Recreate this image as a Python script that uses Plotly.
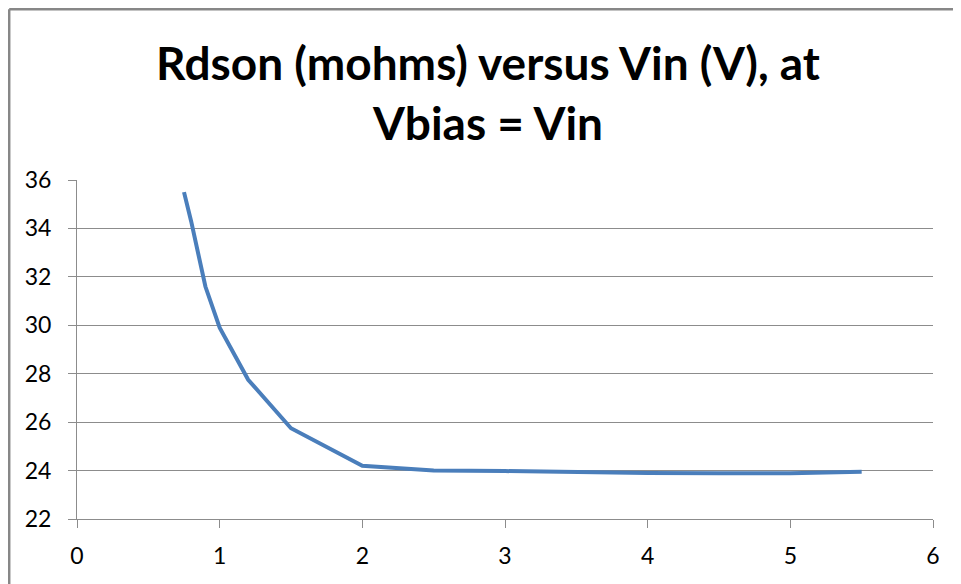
import plotly.graph_objects as go

vin = [0.75, 0.8, 0.9, 1.0, 1.2, 1.5, 2.0, 2.5, 3.0, 3.5, 4.0, 4.5, 5.0, 5.5]
rdson = [35.5, 34.3, 31.6, 29.9, 27.75, 25.75, 24.2, 24.0, 23.98, 23.93, 23.9, 23.89, 23.89, 23.95]
x_ticks = [0, 1, 2, 3, 4, 5, 6]
y_ticks = [22, 24, 26, 28, 30, 32, 34, 36]

title_text = "Rdson (mohms) versus Vin (V), at<br>Vbias = Vin"

# page body has an 8px margin; the figure is sized to fit inside the window
OFF = 8
W, H = 945, 576
ml = 77 - OFF
mt = 180 - OFF
mr = W - (933 - OFF)
mb = H - (519 - OFF)
pw, ph = W - ml - mr, H - mt - mb

fig = go.Figure()
fig.add_trace(go.Scatter(x=vin, y=rdson, mode="lines",
                         line=dict(color="#4A7EBB", width=4),
                         showlegend=False, hoverinfo="skip"))

grid = "#8C8C8C"
fig.update_layout(
    width=W, height=H,
    margin=dict(l=ml, r=mr, t=mt, b=mb, pad=0, autoexpand=False),
    paper_bgcolor="white", plot_bgcolor="white",
    title=dict(text=title_text, x=(488 - OFF) / W, xref="container", xanchor="center",
               y=1 - (80 - OFF) / H, yref="container", yanchor="middle",
               font=dict(family="Lato", size=46, color="black", weight="bold")),
    font=dict(family="Lato", size=23, color="black"),
    xaxis=dict(range=[0, 6], tickvals=x_ticks, showgrid=False, zeroline=False,
               showline=True, linecolor=grid, linewidth=1, automargin=False,
               ticks="outside", ticklen=8, tickcolor=grid, tickwidth=1,
               ticklabelstandoff=8),
    yaxis=dict(range=[22, 36], tickvals=y_ticks, showgrid=True, gridcolor=grid,
               gridwidth=1, zeroline=False, automargin=False,
               showline=True, linecolor=grid, linewidth=1,
               ticks="outside", ticklen=8, tickcolor=grid, tickwidth=1,
               ticklabelstandoff=12),
)

# outer chart border (only the top and left edges are visible in the crop)
bx = (1.2 - ml) / pw
by = 1 + (mt - 1.2) / ph
fig.add_shape(type="line", xref="paper", yref="paper", x0=bx, x1=bx, y0=-1, y1=by,
              line=dict(color="#878787", width=2.5))
fig.add_shape(type="line", xref="paper", yref="paper", x0=bx, x1=(W - ml) / pw, y0=by, y1=by,
              line=dict(color="#878787", width=2.5))

fig.write_html("out.html")
